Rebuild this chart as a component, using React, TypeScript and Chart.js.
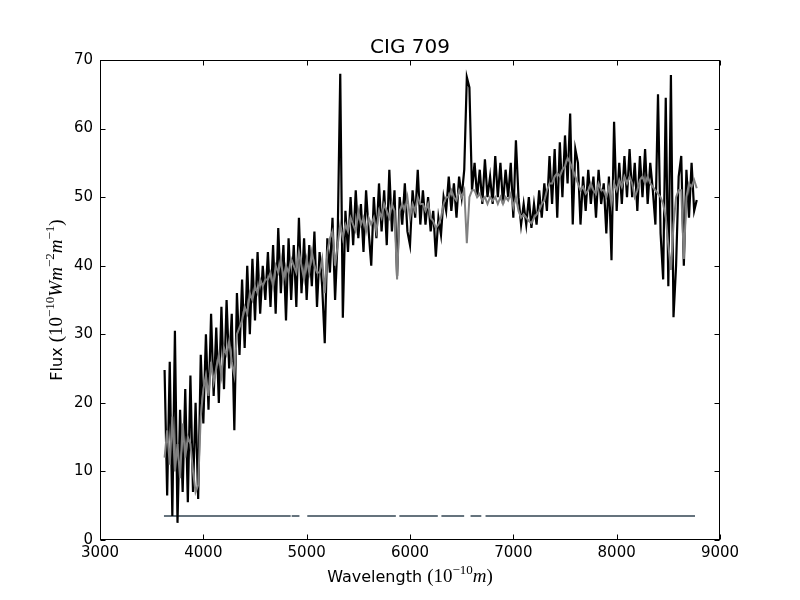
import { useEffect, useRef } from "react";
import { Chart, registerables } from "chart.js";

Chart.register(...registerables);

// sampling grid of the spectrum (Angstrom)
const WAVE_START = 3625;
const WAVE_STEP = 25;

// observed flux (black)
const FLUX_OBSERVED = [
  24.8, 6.5, 26, 3.5, 30.5, 2.5, 19, 7, 22, 5.5,
  24, 7, 20, 6, 27, 17, 30, 19, 33, 21,
  31, 20, 34, 22, 35, 25, 33, 16, 36, 27,
  38, 28, 40, 30, 41, 32, 42, 33, 40, 35,
  42, 34, 43, 33, 45.5, 36, 43, 32, 44, 35,
  43, 34, 47, 36, 44, 35, 43, 37, 45, 34,
  42, 37, 28.7, 44, 39, 47, 35, 44, 68, 32.4,
  48, 42, 50, 43, 51, 44, 49, 42, 51, 45,
  40, 50, 44, 52, 45, 51, 43, 54, 45, 51,
  38.5, 50, 46, 52, 45, 43, 51, 47, 54, 46,
  51, 46, 50, 45, 48, 41.3, 47, 44.5, 50, 48,
  53, 48, 52, 47, 53, 50, 54, 67.5, 66, 51,
  55, 50, 54, 49, 55.5, 50, 53, 49, 56, 50,
  55, 49, 54, 50, 55, 47, 58.3, 50, 46, 49,
  46, 50, 45.5, 49, 46, 51, 47, 52, 48, 56,
  49, 57, 47, 58, 50, 59, 52, 62.2, 46, 57,
  55, 46, 53, 48, 54, 49, 53, 47, 54, 49,
  52, 44.7, 53, 40.8, 61, 48, 55, 49, 56, 50,
  57, 50, 55, 48, 56, 50, 57, 49, 55, 51,
  46, 65, 44.7, 38, 64.5, 37, 67.8, 32.5, 40, 53,
  56, 40, 54, 47, 55, 48, 49.6,
];

// fitted flux (grey)
const FLUX_FIT = [
  12, 16, 11, 18, 10, 14, 9, 17, 12, 15,
  14, 10, 7, 8, 18, 22, 24, 21, 26, 23,
  25, 27, 24, 28, 27, 29, 26, 24, 30, 31,
  32, 34, 33, 36, 35, 37, 36, 38, 37, 38,
  38, 39, 37, 40, 39, 41, 38, 40, 39, 41,
  40, 39, 42, 40, 38, 41, 39, 42, 40, 39,
  39, 41, 36, 42, 44, 45, 40, 43, 46, 44,
  46, 45, 47, 46, 45, 48, 46, 47, 45, 47,
  46, 47, 45, 48, 47, 49, 48, 47, 49, 48,
  38, 48, 49, 48, 50, 47, 49, 48, 50, 49,
  49, 48, 49, 47, 46.5, 45.5, 46, 47, 49, 50,
  50, 51, 50, 49.5, 51, 50, 51, 43.3, 50, 51,
  51, 50, 50.5, 49.5, 50, 49, 50, 49.5, 50, 49,
  50, 49, 50, 49.5, 50.5, 48.5, 50, 48, 47, 47.5,
  47, 46.5, 46.2, 47, 47.5, 48, 49, 49.5, 51, 52,
  52, 53, 53.5, 53, 54, 54.5, 55.7, 55, 54, 53,
  52, 51, 51.5, 50.5, 51, 52, 51, 50.5, 52, 51,
  51, 50, 51.5, 49, 52, 51, 52.5, 51.5, 53, 52,
  53, 52, 50, 51, 52.5, 53, 52, 53, 52, 51.5,
  51, 50.5, 50, 49, 47, 43, 39.4, 46, 50, 51,
  51, 41, 50, 52, 51.5, 52.5, 51.3,
];

// mask segments drawn near the bottom
const MASK_FLUX = 3.5;
const MASK_FROM = [3619, 4855, 5006, 5897, 6304, 6586, 6731];
const MASK_TO = [4845, 4930, 5863, 6269, 6524, 6690, 8758];

const X_TICKS = [3000, 4000, 5000, 6000, 7000, 8000, 9000];
const Y_TICKS = [0, 10, 20, 30, 40, 50, 60, 70];

const TITLE = "CIG 709";

const SANS = "'DejaVu Sans', sans-serif";
const MATH = "'Liberation Serif', serif";

type Run = { text: string; font: string; dy?: number };

function drawRuns(ctx: CanvasRenderingContext2D, runs: Run[], cx: number, y: number) {
  let total = 0;
  const widths = runs.map((r) => {
    ctx.font = r.font;
    const w = ctx.measureText(r.text).width;
    total += w;
    return w;
  });
  let x = cx - total / 2;
  ctx.textAlign = "left";
  ctx.textBaseline = "alphabetic";
  runs.forEach((r, i) => {
    ctx.font = r.font;
    ctx.fillText(r.text, x, y + (r.dy || 0));
    x += widths[i];
  });
}

const XLABEL: Run[] = [
  { text: "Wavelength ", font: `16px ${SANS}` },
  { text: "(10", font: `19px ${MATH}` },
  { text: "\u221210", font: `13px ${MATH}`, dy: -8 },
  { text: "m", font: `italic 19px ${MATH}` },
  { text: ")", font: `19px ${MATH}` },
];

const YLABEL: Run[] = [
  { text: "Flux ", font: `16px ${SANS}` },
  { text: "(10", font: `19px ${MATH}` },
  { text: "\u221210", font: `13px ${MATH}`, dy: -8 },
  { text: "Wm", font: `italic 19px ${MATH}` },
  { text: "\u22122", font: `13px ${MATH}`, dy: -8 },
  { text: "m", font: `italic 19px ${MATH}` },
  { text: "\u22121", font: `13px ${MATH}`, dy: -8 },
  { text: ")", font: `19px ${MATH}` },
];

const framePlugin = {
  id: "frame",
  afterDraw(chart: Chart) {
    const { ctx, chartArea: a, scales } = chart;
    const L = Math.round(a.left) + 0.5;
    const R = Math.round(a.right) - 0.5;
    const T = Math.round(a.top) + 0.5;
    const B = Math.round(a.bottom) - 0.5;
    ctx.save();
    ctx.strokeStyle = "#000";
    ctx.lineWidth = 1;
    ctx.strokeRect(L, T, R - L, B - T);
    const len = 5;
    ctx.beginPath();
    X_TICKS.forEach((v) => {
      const p = Math.round(scales.x.getPixelForValue(v)) + 0.5;
      ctx.moveTo(p, B);
      ctx.lineTo(p, B - len);
      ctx.moveTo(p, T);
      ctx.lineTo(p, T + len);
    });
    Y_TICKS.forEach((v) => {
      const p = Math.round(scales.y.getPixelForValue(v)) + 0.5;
      ctx.moveTo(L, p);
      ctx.lineTo(L + len, p);
      ctx.moveTo(R, p);
      ctx.lineTo(R - len, p);
    });
    ctx.stroke();

    ctx.fillStyle = "#000";
    ctx.font = `20px ${SANS}`;
    ctx.textAlign = "center";
    ctx.textBaseline = "alphabetic";
    ctx.fillText(TITLE, (a.left + a.right) / 2, 53);

    drawRuns(ctx, XLABEL, (a.left + a.right) / 2, 582);

    ctx.translate(62, (a.top + a.bottom) / 2);
    ctx.rotate(-Math.PI / 2);
    drawRuns(ctx, YLABEL, 0, 0);
    ctx.restore();
  },
};

export default function App() {
  const canvasRef = useRef<HTMLCanvasElement>(null);
  const chartRef = useRef<Chart | null>(null);

  useEffect(() => {
    if (!canvasRef.current) return;
    chartRef.current?.destroy();

    Chart.defaults.font.family = SANS;
    Chart.defaults.color = "#000";

    const observed = FLUX_OBSERVED.map((y, i) => ({ x: WAVE_START + i * WAVE_STEP, y }));
    const fit = FLUX_FIT.map((y, i) => ({ x: WAVE_START + i * WAVE_STEP, y }));
    const mask: { x: number; y: number | null }[] = [];
    MASK_FROM.forEach((from, i) => {
      mask.push({ x: from, y: MASK_FLUX });
      mask.push({ x: MASK_TO[i], y: MASK_FLUX });
      mask.push({ x: MASK_TO[i], y: null });
    });

    chartRef.current = new Chart(canvasRef.current, {
      type: "line",
      data: {
        datasets: [
          {
            label: "fit",
            data: fit,
            borderColor: "#808080",
            borderWidth: 2,
            pointRadius: 0,
            tension: 0,
            order: 0,
          },
          {
            label: "observed",
            data: observed,
            borderColor: "#000000",
            borderWidth: 2.2,
            pointRadius: 0,
            tension: 0,
            order: 1,
          },
          {
            label: "mask",
            data: mask,
            borderColor: "#65737d",
            borderWidth: 2,
            pointRadius: 0,
            spanGaps: false,
            order: 2,
          },
        ],
      },
      options: {
        animation: false,
        responsive: true,
        maintainAspectRatio: false,
        layout: { padding: { top: 60, right: 80, left: 0, bottom: 0 } },
        plugins: {
          legend: { display: false },
          title: { display: false },
          tooltip: { enabled: false },
        },
        scales: {
          x: {
            type: "linear",
            min: 3000,
            max: 9000,
            grid: { display: false, drawTicks: false },
            border: { display: false },
            afterFit: (s: any) => { s.height = 60; },
            ticks: {
              stepSize: 1000,
              padding: 4,
              font: { size: 15 },
              color: "#000",
              maxRotation: 0,
              callback: (v: any) => String(v),
            },
          },
          y: {
            type: "linear",
            min: 0,
            max: 70,
            grid: { display: false, drawTicks: false },
            border: { display: false },
            afterFit: (s: any) => { s.width = 100; },
            ticks: {
              stepSize: 10,
              padding: 7,
              font: { size: 15 },
              color: "#000",
              callback: (v: any) => String(v),
            },
          },
        },
      },
      plugins: [framePlugin],
    });

    return () => { chartRef.current?.destroy(); };
  }, []);

  return (
    <div style={{ position: "fixed", left: 0, top: 0, width: 800, height: 600, background: "#fff" }}>
      <canvas ref={canvasRef} />
    </div>
  );
}
